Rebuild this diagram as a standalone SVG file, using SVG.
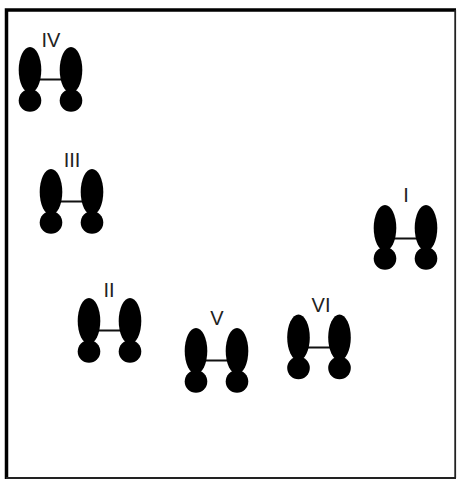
<svg xmlns="http://www.w3.org/2000/svg" width="457" height="479" viewBox="0 0 457 479">
<style>
.f{fill:#000}
.b{stroke:#111;stroke-width:2;fill:none}
.t{font-family:"Liberation Sans",Arial,sans-serif;font-size:20px;fill:#222;text-anchor:middle}
</style>
<defs>
<g id="fig">
<ellipse class="f" cx="0" cy="0" rx="11.3" ry="23"/>
<ellipse class="f" cx="41" cy="0" rx="11.3" ry="23"/>
<circle class="f" cx="0" cy="30.5" r="11.3"/>
<circle class="f" cx="41" cy="30.5" r="11.3"/>
</g>
</defs>
<rect x="0" y="0" width="457" height="479" fill="#fff"/>
<g id="frame" fill="none">
<path d="M6.5 479V10H456" stroke="#000" stroke-width="3.5"/>
<path d="M455.2 10V478" stroke="#222" stroke-width="1.8"/>
<path d="M6 478H456" stroke="#222" stroke-width="1.8"/>
</g>
<g id="connectors">
<line class="b" x1="30" y1="79.5" x2="71" y2="79.5"/>
<line class="b" x1="51" y1="201.5" x2="92" y2="201.5"/>
<line class="b" x1="89" y1="330.5" x2="130" y2="330.5"/>
<line class="b" x1="196" y1="360.5" x2="237" y2="360.5"/>
<line class="b" x1="298" y1="347.5" x2="339" y2="347.5"/>
<line class="b" x1="385" y1="238.5" x2="426" y2="238.5"/>
</g>
<g id="node-iv"><use href="#fig" x="30" y="70"/><text class="t" x="51" y="46.5">IV</text></g>
<g id="node-iii"><use href="#fig" x="51" y="192"/><text class="t" x="72" y="167">III</text></g>
<g id="node-ii"><use href="#fig" x="89" y="321"/><text class="t" x="109" y="297">II</text></g>
<g id="node-v"><use href="#fig" x="196" y="351"/><text class="t" x="217" y="325">V</text></g>
<g id="node-vi"><use href="#fig" x="298.5" y="337.5"/><text class="t" x="321" y="312">VI</text></g>
<g id="node-i"><use href="#fig" x="385" y="228"/><text class="t" x="406" y="202">I</text></g>
</svg>
